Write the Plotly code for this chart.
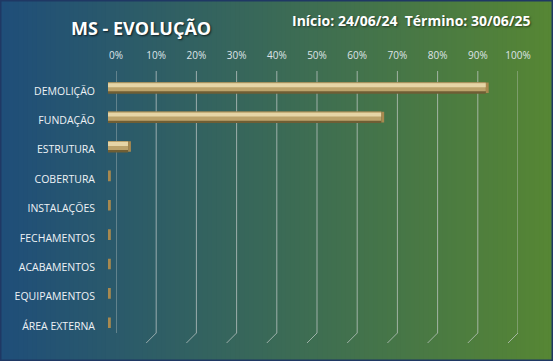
import plotly.graph_objects as go

categories = ["DEMOLIÇÃO", "FUNDAÇÃO", "ESTRUTURA", "COBERTURA", "INSTALAÇÕES",
              "FECHAMENTOS", "ACABAMENTOS", "EQUIPAMENTOS", "ÁREA EXTERNA"]
progress = [0.94, 0.68, 0.05, 0, 0, 0, 0, 0, 0]
tick_values = [0, 0.1, 0.2, 0.3, 0.4, 0.5, 0.6, 0.7, 0.8, 0.9, 1.0]
tick_labels = ["0%", "10%", "20%", "30%", "40%", "50%", "60%", "70%", "80%", "90%", "100%"]
title_text = "MS - EVOLUÇÃO"
dates_text = "Início: 24/06/24  Término: 30/06/25"

W, H = 553, 361
CAP = 0.007

fig = go.Figure()

# cylinder-like bars: shadow, body, highlight, end cap
fig.add_trace(go.Bar(y=categories, x=progress, orientation="h", xaxis="x2", yaxis="y",
                     width=0.39, offset=-0.30, marker=dict(color="#6f5e34", line=dict(width=0)),
                     hoverinfo="skip", showlegend=False))
fig.add_trace(go.Bar(y=categories, x=progress, orientation="h", xaxis="x2", yaxis="y",
                     width=0.31, offset=-0.30, marker=dict(color="#bca36b", line=dict(width=0)),
                     hoverinfo="skip", showlegend=False))
fig.add_trace(go.Bar(y=categories, x=progress, orientation="h", xaxis="x2", yaxis="y",
                     width=0.13, offset=-0.26, marker=dict(color="#e6d5a6", line=dict(width=0)),
                     hoverinfo="skip", showlegend=False))
fig.add_trace(go.Bar(y=categories, x=[CAP] * len(progress), base=progress, orientation="h",
                     xaxis="x2", yaxis="y",
                     width=0.36, offset=-0.29, marker=dict(color="#a8894f", line=dict(width=0)),
                     hoverinfo="skip", showlegend=False))

shapes = []
# gradient background
n = 120
c0 = (31, 78, 121)
c1 = (86, 134, 52)
for i in range(n):
    t = i / (n - 1)
    col = tuple(int(round(c0[k] + (c1[k] - c0[k]) * t)) for k in range(3))
    shapes.append(dict(type="rect", xref="paper", yref="paper",
                       x0=i / n, x1=(i + 1) / n + 0.002, y0=0, y1=1,
                       fillcolor="rgb(%d,%d,%d)" % col, line=dict(width=0), layer="below"))

# grid lines (back wall) with perspective foot
def py(px):
    return 1 - px / H

depth = 10 / 402
for v in tick_values:
    shapes.append(dict(type="line", xref="x", yref="paper", x0=v, x1=v,
                       y0=py(71), y1=py(333), line=dict(color="rgba(200,205,205,0.7)", width=1),
                       layer="below"))
    shapes.append(dict(type="line", xref="x", yref="paper", x0=v, x1=v - depth,
                       y0=py(333), y1=py(343), line=dict(color="rgba(200,205,205,0.7)", width=1),
                       layer="below"))

# border
shapes.append(dict(type="rect", xref="paper", yref="paper", x0=0, x1=1, y0=0, y1=1,
                   line=dict(color="#1f3864", width=3), fillcolor="rgba(0,0,0,0)"))

top = 91 - 0.5 * 29.4
bottom = 326 + 0.5 * 29.4

fig.update_layout(
    width=W, height=H,
    margin=dict(l=0, r=0, t=0, b=0, autoexpand=False),
    paper_bgcolor="#1f4e79",
    plot_bgcolor="rgba(0,0,0,0)",
    barmode="overlay",
    font=dict(family="Open Sans, Liberation Sans, sans-serif", color="#eef2f6"),
    xaxis=dict(domain=[116 / W, 518 / W], range=[0, 1], side="top", anchor="free",
               position=py(61), tickvals=tick_values, ticktext=tick_labels,
               showgrid=False, zeroline=False, showline=False, ticks="",
               tickfont=dict(size=10, color="#dfe4e8"), fixedrange=True, automargin=False),
    xaxis2=dict(domain=[108 / W, 510 / W], range=[0, 1], anchor="y",
                visible=False, fixedrange=True, automargin=False),
    yaxis=dict(domain=[py(bottom), py(top)], type="category",
               range=[len(categories) - 0.5, -0.5],
               showgrid=False, zeroline=False, showline=False, ticks="",
               tickfont=dict(size=10.5, color="#eef2f6"), ticklabelstandoff=20,
               fixedrange=True, automargin=False),
    shapes=shapes,
    annotations=[
        dict(text="<b>" + title_text + "</b>", xref="paper", yref="paper",
             x=141 / W, y=py(28), xanchor="center", yanchor="middle", showarrow=False,
             font=dict(size=18, color="#ffffff", family="Open Sans, sans-serif",
                       shadow="1px 1px 2px rgba(0,0,0,0.7)")),
        dict(text="<b>" + dates_text + "</b>", xref="paper", yref="paper",
             x=533 / W, y=py(20), xanchor="right", yanchor="middle", showarrow=False,
             font=dict(size=14, color="#ffffff", family="Open Sans, sans-serif",
                       shadow="1px 1px 2px rgba(0,0,0,0.5)")),
    ],
)

fig.write_html("out.html", config={"displayModeBar": False},
               post_script="document.body.style.margin='0';")
